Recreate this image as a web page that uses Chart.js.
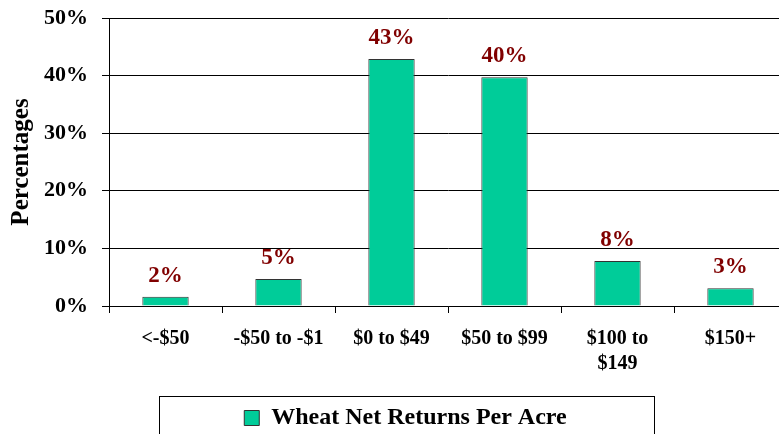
<!DOCTYPE html>
<html>
<head>
<meta charset="utf-8">
<script src="https://cdn.jsdelivr.net/npm/chart.js@4/dist/chart.umd.min.js"></script>
<style>
  html, body { margin: 0; padding: 0; background: #fff; overflow: hidden; }
  #wrap { position: relative; width: 800px; height: 434px; }
</style>
</head>
<body>
<div id="wrap"><canvas id="returns-chart" width="800" height="434"></canvas></div>
<script>
// DATA ------------------------------------------------------

const categories = ["<-$50", "-$50 to -$1", "$0 to $49", "$50 to $99", ["$100 to", "$149"], "$150+"];
const wheatReturns = [1.6, 4.7, 42.9, 39.7, 7.8, 3.1];
const yTicks = [0, 10, 20, 30, 40, 50];
const seriesName = "Wheat Net Returns Per Acre";

const serif = "'Liberation Serif', 'Times New Roman', serif";

// VALUE LABELS ABOVE THE BARS ------------------------------------------------------

const valueLabels = {
    id: 'valueLabels',
    afterDatasetsDraw(chart) {
        const ctx = chart.ctx;
        const meta = chart.getDatasetMeta(0);
        ctx.save();
        ctx.font = "bold 23px " + serif;
        ctx.fillStyle = "#800000";
        ctx.textAlign = "center";
        ctx.textBaseline = "alphabetic";
        meta.data.forEach((bar, i) => {
            ctx.fillText(Math.round(wheatReturns[i]) + "%", bar.x, bar.y - 15);
        });
        ctx.restore();
    }
};

// legend sits a bit right of the canvas centre, with a box round it
const legendBox = {
    id: 'legendBox',
    afterLayout(chart) {
        chart.legend.left += 12;
        chart.legend.right += 12;
    },
    afterDraw(chart) {
        const lg = chart.legend;
        const ctx = chart.ctx;
        const cx = lg.left + lg.width / 2;
        ctx.save();
        ctx.strokeStyle = "#000";
        ctx.lineWidth = 1;
        ctx.strokeRect(Math.round(cx - 247) + 0.5, Math.round(lg.top) - 2.5, 495, 60);
        ctx.restore();
    }
};

// CHART ------------------------------------------------------

const canvas = document.getElementById("returns-chart");

const chartData = {
    labels: categories,
    datasets: [{
        label: seriesName,
        data: wheatReturns,
        backgroundColor: '#00CC99',
        borderColor: '#333333',
        borderWidth: 1,
        categoryPercentage: 1,
        barPercentage: 0.41
    }]
};

const chartOptions = {
    responsive: false,
    animation: false,
    layout: {
        padding: { top: 18, right: 13, bottom: -6, left: 0 }
    },
    scales: {
        x: {
            grid: {
                offset: true,
                drawOnChartArea: false,
                color: '#000',
                tickLength: 7
            },
            border: { color: '#000', width: 1 },
            ticks: {
                color: '#000',
                padding: 13,
                maxRotation: 0,
                autoSkip: false,
                font: { family: serif, size: 20, weight: 'bold', lineHeight: 1.25 }
            },
            afterFit(scale) { scale.height = 93; }
        },
        y: {
            min: 0,
            max: 50,
            afterBuildTicks(scale) { scale.ticks = yTicks.map(v => ({ value: v })); },
            grid: {
                color: '#000',
                tickLength: 7
            },
            border: { color: '#000', width: 1 },
            ticks: {
                color: '#000',
                padding: 14,
                font: { family: serif, size: 22, weight: 'bold' },
                callback: v => v + "%"
            },
            title: {
                display: true,
                text: "Percentages",
                color: '#000',
                padding: { top: 7, bottom: 0 },
                font: { family: serif, size: 25, weight: 'bold' }
            },
            afterFit(scale) {
                scale.width = 109;
                scale.paddingTop = 0;
                scale.paddingBottom = 0;
            }
        }
    },
    plugins: {
        legend: {
            position: 'bottom',
            labels: {
                color: '#000',
                boxWidth: 15,
                boxHeight: 15,
                padding: 7,
                font: { family: serif, size: 24, weight: 'bold', lineHeight: 1 }
            },
            onClick: null
        },
        tooltip: { enabled: false }
    }
};

let returnsChart = new Chart(canvas, {
    type: 'bar',
    data: chartData,
    options: chartOptions,
    plugins: [valueLabels, legendBox]
});
</script>
</body>
</html>
